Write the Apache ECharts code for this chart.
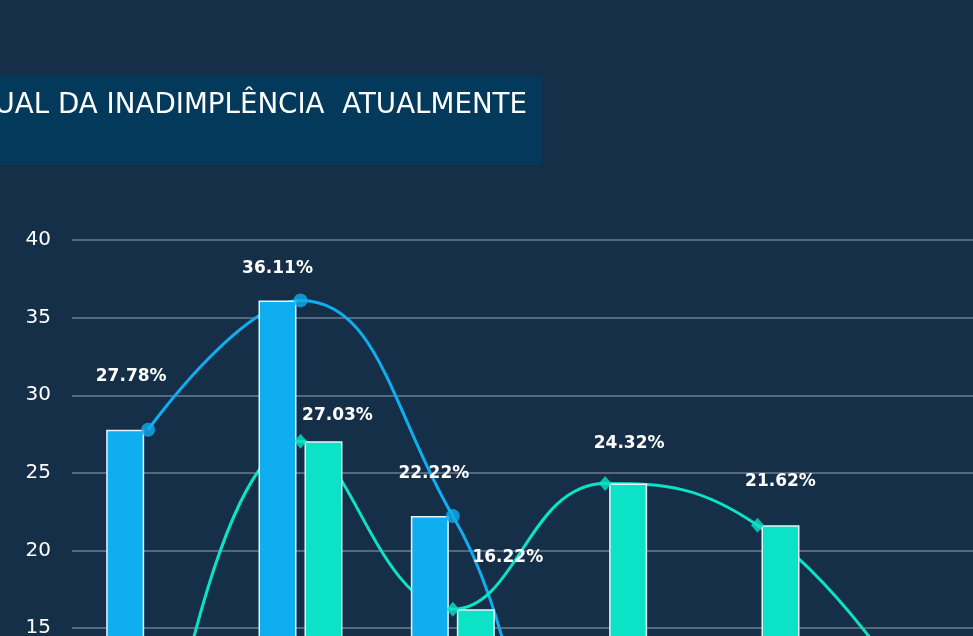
<!DOCTYPE html>
<html>
<head>
<meta charset="utf-8">
<script src="https://cdn.jsdelivr.net/npm/echarts@6/dist/echarts.min.js"></script>
<style>
  html, body { margin: 0; padding: 0; background: #162f48; }
  #main { width: 973px; height: 636px; }
</style>
</head>
<body>
<div id="main"></div>
<script>
// valores (as categorias ficam fora do recorte)
const categories = ['Faixa 1', 'Faixa 2', 'Faixa 3', 'Faixa 4', 'Faixa 5', 'Faixa 6']
const serieAnterior = [27.78, 36.11, 22.22, 2.78, 8.33, 2.78]
const serieAtual = [0, 27.03, 16.22, 24.32, 21.62, 10.81]
const yMin = 0
const yMax = 40
const yStep = 5

// deslocamento dos rotulos (ajuste manual, como no original)
const offsetAnterior = [[6, -45], [0, -23], [4, -34], [0, -30], [0, -30], [0, -30]]
const offsetAtual = [[0, -30], [14, -17], [32, -43], [1, -31], [0, -35], [0, -30]]

const BLUE = '#0eaef0'
const GREEN = '#0be2c6'

const chartDom = document.getElementById('main')
const myChart = echarts.init(chartDom)

function withLabels(values, offsets) {
  return values.map((v, i) => ({
    value: v,
    label: { offset: offsets[i] }
  }))
}

const barLabel = {
  show: true,
  position: 'top',
  distance: 0,
  color: '#ffffff',
  fontFamily: 'DejaVu Sans',
  fontWeight: 'bold',
  fontSize: 17,
  formatter: p => p.value.toFixed(2) + '%'
}

myChart.setOption({
  backgroundColor: '#162f48',
  animation: false,
  graphic: [
    {
      type: 'rect',
      shape: { x: -300, y: 76, width: 841, height: 89 },
      style: { fill: '#03395b' },
      z: 10
    },
    {
      type: 'text',
      z: 11,
      style: {
        x: 527,
        y: 106,
        text: 'PERCENTUAL DA INADIMPLÊNCIA  ATUALMENTE',
        align: 'right',
        verticalAlign: 'middle',
        fill: '#ffffff',
        font: '27.7px "DejaVu Sans"'
      }
    }
  ],
  grid: {
    left: 72,
    top: 240,
    width: 914,
    height: 621,
    containLabel: false,
    outerBoundsMode: 'none'
  },
  xAxis: {
    type: 'category',
    data: categories,
    axisLine: { show: false },
    axisTick: { show: false },
    axisLabel: { color: '#ffffff' }
  },
  yAxis: {
    type: 'value',
    min: yMin,
    max: yMax,
    interval: yStep,
    axisLine: { show: false },
    axisTick: { show: false },
    axisLabel: {
      color: '#ffffff',
      fontFamily: 'DejaVu Sans',
      fontSize: 20,
      margin: 21
    },
    splitLine: {
      lineStyle: { color: '#55687c', width: 2 }
    }
  },
  series: [
    {
      name: 'Anterior',
      type: 'line',
      data: serieAnterior,
      smooth: 0.45,
      showSymbol: false,
      z: 1,
      lineStyle: { color: BLUE, width: 3 }
    },
    {
      name: 'Atual',
      type: 'line',
      data: serieAtual,
      smooth: 0.45,
      showSymbol: false,
      z: 1,
      lineStyle: { color: GREEN, width: 3 }
    },
    {
      name: 'Anterior',
      type: 'bar',
      data: withLabels(serieAnterior, offsetAnterior),
      barWidth: 38,
      barGap: '21%',
      z: 2,
      itemStyle: { color: BLUE, borderColor: '#e6f4fb', borderWidth: 1.5 },
      label: barLabel
    },
    {
      name: 'Atual',
      type: 'bar',
      data: withLabels(serieAtual, offsetAtual),
      barWidth: 38,
      z: 2,
      itemStyle: { color: GREEN, borderColor: '#e6f4fb', borderWidth: 1.5 },
      label: barLabel
    },
    {
      name: 'Anterior',
      type: 'scatter',
      data: serieAnterior,
      symbol: 'circle',
      symbolSize: 14,
      z: 3,
      itemStyle: { color: BLUE }
    },
    {
      name: 'Atual',
      type: 'scatter',
      data: serieAtual,
      symbol: 'diamond',
      symbolSize: [13, 15],
      z: 3,
      itemStyle: { color: GREEN }
    }
  ]
})
</script>
</body>
</html>
